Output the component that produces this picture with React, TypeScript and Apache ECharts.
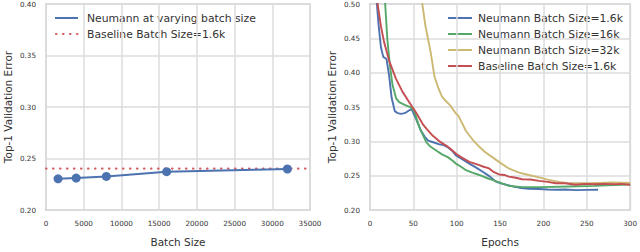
import React, { useEffect, useRef } from "react";
import * as echarts from "echarts";

// Left panel: final error vs batch size
const batchSizes = [1600, 4000, 8000, 16000, 32000];
const batchErrors = [0.2303, 0.231, 0.2326, 0.2372, 0.2398];
const baselineError = 0.2402;
const leftXTicks = { min: 0, max: 35000, interval: 5000 };
const leftYTicks = { min: 0.2, max: 0.4, interval: 0.05 };

// Right panel: error vs epochs
const blueEpochs = [6, 10, 12.6, 15.3, 19, 22, 25, 28.6, 32, 36, 40, 45, 48, 51.5, 55, 59, 63, 67, 72, 80, 85, 90, 95, 99, 105, 114.5, 122, 130, 138, 145, 152, 158, 165, 172, 183, 195, 205, 214, 225, 237, 250, 263];
const blueErrors = [0.53, 0.468, 0.437, 0.423, 0.42, 0.396, 0.363, 0.344, 0.341, 0.34, 0.341, 0.345, 0.347, 0.337, 0.327, 0.315, 0.307, 0.301, 0.299, 0.2955, 0.2945, 0.291, 0.286, 0.2795, 0.275, 0.2676, 0.262, 0.2557, 0.249, 0.2414, 0.2385, 0.2367, 0.2343, 0.2325, 0.231, 0.2305, 0.2298, 0.2295, 0.2298, 0.229, 0.2293, 0.2295];

const greenEpochs = [16, 17.5, 20, 23, 26, 30, 33.6, 40, 47, 51, 57, 65, 70, 76.3, 83, 89.7, 95, 99, 105, 110.7, 118, 126, 137, 141, 150, 160, 175.6, 198, 229, 260, 280, 300];
const greenErrors = [0.54, 0.5, 0.4486, 0.41, 0.382, 0.363, 0.357, 0.353, 0.3495, 0.344, 0.32, 0.2986, 0.292, 0.2867, 0.281, 0.277, 0.272, 0.2676, 0.263, 0.258, 0.2545, 0.251, 0.2455, 0.2438, 0.24, 0.2352, 0.2333, 0.2333, 0.2343, 0.2352, 0.2365, 0.2371];

const yellowEpochs = [58, 60.3, 64, 70, 74.4, 79, 83, 88, 92.7, 99, 102, 110.7, 118, 126, 133, 141, 150, 160, 172, 183, 195, 206, 218, 229, 241, 252, 265, 278.6, 290, 300];
const yellowErrors = [0.53, 0.5, 0.4676, 0.4295, 0.394, 0.377, 0.365, 0.358, 0.352, 0.3406, 0.337, 0.315, 0.303, 0.292, 0.284, 0.277, 0.269, 0.2605, 0.2545, 0.251, 0.2475, 0.2438, 0.241, 0.239, 0.2392, 0.239, 0.2395, 0.24, 0.2398, 0.2395];

const redEpochs = [7, 8.8, 12.6, 16.4, 22, 30, 37.4, 45.8, 51, 53.4, 61, 66, 72.5, 80, 87.8, 92, 99.2, 105, 114.5, 120, 126, 131, 137.4, 143, 148.9, 155, 160, 168, 175.6, 185, 195, 205, 214, 225, 237, 248, 260, 270, 283, 290, 300];
const redErrors = [0.52, 0.5, 0.4676, 0.4438, 0.4176, 0.391, 0.3724, 0.3557, 0.346, 0.3414, 0.3248, 0.317, 0.308, 0.3, 0.2938, 0.29, 0.2819, 0.277, 0.27, 0.268, 0.2653, 0.263, 0.2605, 0.255, 0.2518, 0.251, 0.2486, 0.247, 0.2448, 0.2445, 0.2424, 0.241, 0.239, 0.239, 0.2367, 0.238, 0.2376, 0.238, 0.2376, 0.238, 0.2367];
const rightXTicks = { min: 0, max: 300, interval: 50 };
const rightYTicks = { min: 0.2, max: 0.5, interval: 0.05 };

const leftLegend = ["Neumann at varying batch size", "Baseline Batch Size=1.6k"];
const rightLegend = [
  "Neumann Batch Size=1.6k",
  "Neumann Batch Size=16k",
  "Neumann Batch Size=32k",
  "Baseline Batch Size=1.6k",
];

const BLUE = "#4C72B0";
const GREEN = "#55A868";
const YELLOW = "#CCB974";
const RED = "#C44E52";
const DOT_RED = "#D65F5F";
const FONT = "DejaVu Sans";
const GRIDLINE = "#dddddd";

const zip = (xs: number[], ys: number[]) => xs.map((x, i) => [x, ys[i]]);

export default function App() {
  const ref = useRef<HTMLDivElement>(null);
  useEffect(() => {
    if (!ref.current) return;
    const chart = echarts.init(ref.current, null, { renderer: "svg" });

    const axisLabel = { color: "#333", fontSize: 7.2, fontFamily: FONT };
    const nameStyle = { color: "#333", fontSize: 10.5, fontFamily: FONT };
    const split = { show: true, lineStyle: { color: GRIDLINE, width: 1.5 } };
    const xAxisBase = (idx: number, t: any, name: string) => ({
      type: "value",
      gridIndex: idx,
      ...t,
      name,
      nameLocation: "middle",
      nameGap: 26,
      nameTextStyle: nameStyle,
      axisLine: { show: false },
      axisTick: { show: false },
      axisLabel: { ...axisLabel, margin: 10, formatter: (v: number) => String(v) },
      splitLine: split,
    });
    const yAxisBase = (idx: number, t: any) => ({
      type: "value",
      gridIndex: idx,
      ...t,
      name: "Top-1 Validation Error",
      nameLocation: "middle",
      nameGap: 33,
      nameTextStyle: nameStyle,
      axisLine: { show: false },
      axisTick: { show: false },
      axisLabel: { ...axisLabel, margin: 10, formatter: (v: number) => v.toFixed(2) },
      splitLine: split,
    });

    const legendFont = { fontSize: 10.8, fontFamily: FONT, fill: "#333", verticalAlign: "middle", align: "left" };

    const option: any = {
      animation: false,
      backgroundColor: "#fff",
      grid: [
        { left: 46, top: 4, width: 264, height: 210, show: true, borderColor: "#d6d6d6", borderWidth: 2 },
        { left: 370, top: 4, width: 262, height: 210, show: true, borderColor: "#d6d6d6", borderWidth: 2 },
      ],
      xAxis: [xAxisBase(0, leftXTicks, "Batch Size"), xAxisBase(1, rightXTicks, "Epochs")],
      yAxis: [yAxisBase(0, leftYTicks), yAxisBase(1, rightYTicks)],
      series: [
        {
          type: "line",
          xAxisIndex: 0,
          yAxisIndex: 0,
          data: zip(batchSizes, batchErrors),
          symbol: "circle",
          symbolSize: 9,
          itemStyle: { color: BLUE },
          lineStyle: { color: BLUE, width: 2 },
          z: 3,
        },
        {
          type: "line",
          xAxisIndex: 0,
          yAxisIndex: 0,
          data: [
            [leftXTicks.min, baselineError],
            [leftXTicks.max, baselineError],
          ],
          symbol: "none",
          lineStyle: { color: DOT_RED, width: 2.2, type: [0.5, 6.5], cap: "round" },
          z: 2,
        },
        ...[
          [blueEpochs, blueErrors, BLUE],
          [greenEpochs, greenErrors, GREEN],
          [yellowEpochs, yellowErrors, YELLOW],
          [redEpochs, redErrors, RED],
        ].map(([xs, ys, c]: any) => ({
          type: "line",
          xAxisIndex: 1,
          yAxisIndex: 1,
          data: zip(xs, ys),
          symbol: "none",
          clip: true,
          lineStyle: { color: c, width: 1.9 },
        })),
      ],
      graphic: [
        { type: "line", shape: { x1: 55, y1: 18, x2: 78, y2: 18 }, style: { stroke: BLUE, lineWidth: 2 } },
        { type: "text", x: 87, y: 18, style: { text: leftLegend[0], ...legendFont } },
        { type: "line", shape: { x1: 56, y1: 34, x2: 78, y2: 34 }, style: { stroke: DOT_RED, lineWidth: 2.2, lineDash: [0.5, 6.5], lineCap: "round" } },
        { type: "text", x: 87, y: 34, style: { text: leftLegend[1], ...legendFont } },
        ...rightLegend.flatMap((t, i) => {
          const y = 18 + i * 16;
          const c = [BLUE, GREEN, YELLOW, RED][i];
          return [
            { type: "line", shape: { x1: 448, y1: y, x2: 472, y2: y }, style: { stroke: c, lineWidth: 2 } },
            { type: "text", x: 478, y, style: { text: t, ...legendFont } },
          ];
        }),
      ],
    };
    chart.setOption(option);
    return () => chart.dispose();
  }, []);
  return <div ref={ref} style={{ position: "fixed", left: 0, top: 0, width: 640, height: 252 }} />;
}
